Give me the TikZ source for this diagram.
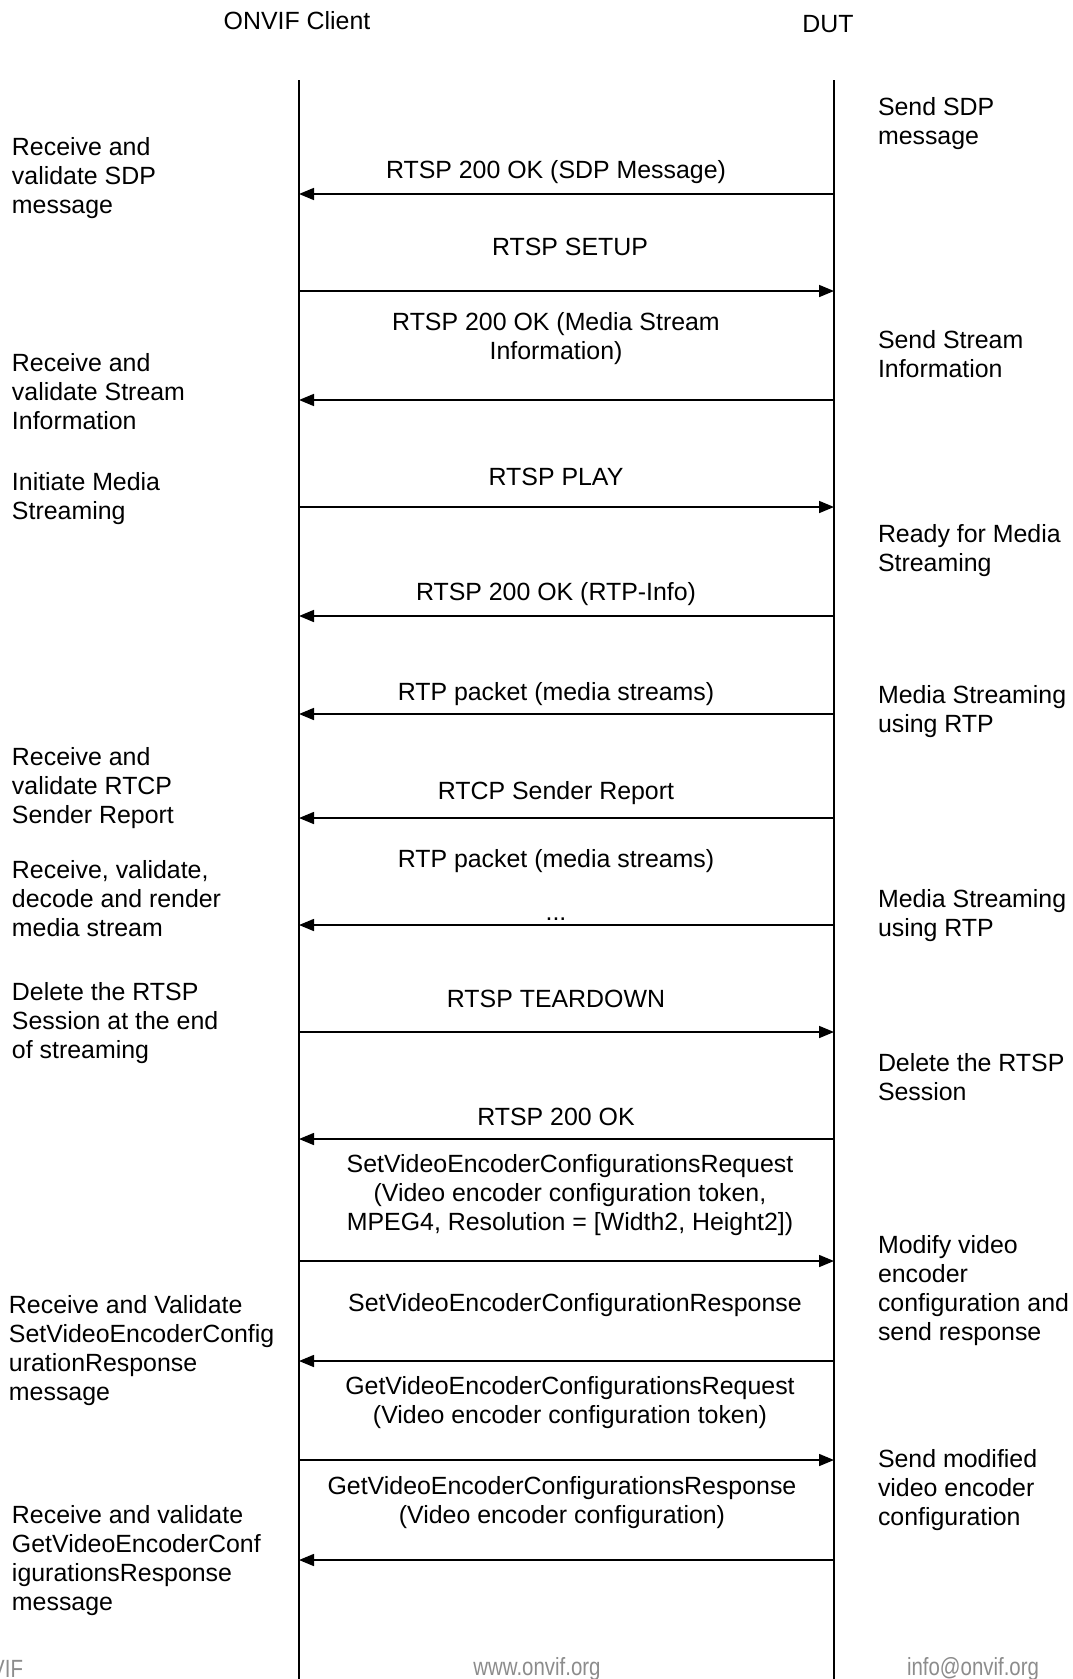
\documentclass[tikz,border=0pt]{standalone}
\usepackage{fontspec}
\setmainfont{Liberation Sans}
\newfontfamily\narrowfont[FakeStretch=0.82]{Liberation Sans}
\usetikzlibrary{arrows.meta}
\definecolor{footgray}{RGB}{140,140,140}
\begin{document}
\begin{tikzpicture}[x=1pt,y=-1pt,
  every node/.style={inner sep=0pt,outer sep=0pt,font=\fontsize{24.9}{29}\selectfont},
  txt/.style={yshift=-3pt},
  lifeline/.style={line width=1.5pt},
  msg/.style={line width=1.6pt,-{Triangle[length=15pt,width=12pt]}},
  lnote/.style={txt,anchor=west,align=left},
  rnote/.style={txt,anchor=west,align=left},
  mlabel/.style={txt,align=center},
  foot/.style={txt,font=\narrowfont\fontsize{24.9}{29}\selectfont,text=footgray}]
\useasboundingbox (0,0) rectangle (1073,1679);
\clip (0,0) rectangle (1073,1679);

% headers
\node[txt] (hc) at (297,18) {ONVIF Client};
\node[txt] (hd) at (828,21) {DUT};

% lifelines
\coordinate (ct) at (299,80);
\coordinate (cb) at (299,1679);
\coordinate (dt) at (834,80);
\coordinate (db) at (834,1679);
\draw[lifeline] (ct) -- (cb);
\draw[lifeline] (dt) -- (db);

% message endpoints
\foreach \i/\y in {1/194,2/291,3/400,4/507,5/616,6/714,7/818,8/925,9/1032,10/1139,11/1261,12/1361,13/1460,14/1560}{
  \coordinate (c\i) at (299,\y);
  \coordinate (d\i) at (834,\y);
}

\draw[msg] (d1) -- (c1);
\draw[msg] (c2) -- (d2);
\draw[msg] (d3) -- (c3);
\draw[msg] (c4) -- (d4);
\draw[msg] (d5) -- (c5);
\draw[msg] (d6) -- (c6);
\draw[msg] (d7) -- (c7);
\draw[msg] (d8) -- (c8);
\draw[msg] (c9) -- (d9);
\draw[msg] (d10) -- (c10);
\draw[msg] (c11) -- (d11);
\draw[msg] (d12) -- (c12);
\draw[msg] (c13) -- (d13);
\draw[msg] (d14) -- (c14);

% message labels
\node[mlabel] (m1) at (556,169) {RTSP 200 OK (SDP Message)};
\node[mlabel] (m2) at (570,244) {RTSP SETUP};
\node[mlabel] (m3) at (556,336) {RTSP 200 OK (Media Stream\\Information)};
\node[mlabel] (m4) at (556,474) {RTSP PLAY};
\node[mlabel] (m5) at (556,591) {RTSP 200 OK (RTP-Info)};
\node[mlabel] (m6) at (556,691) {RTP packet (media streams)};
\node[mlabel] (m7) at (556,790) {RTCP Sender Report};
\node[mlabel] (m8) at (556,858) {RTP packet (media streams)};
\node[mlabel] (m8b) at (556,916) {...};
\node[mlabel] (m9) at (556,996) {RTSP TEARDOWN};
\node[mlabel] (m10) at (556,1114) {RTSP 200 OK};
\node[mlabel] (m11) at (570,1192) {SetVideoEncoderConfigurationsRequest\\(Video encoder configuration token,\\MPEG4, Resolution = [Width2, Height2])};
\node[mlabel] (m12) at (575,1302) {SetVideoEncoderConfigurationResponse};
\node[mlabel] (m13) at (570,1400) {GetVideoEncoderConfigurationsRequest\\(Video encoder configuration token)};
\node[mlabel] (m14) at (562,1500) {GetVideoEncoderConfigurationsResponse\\(Video encoder configuration)};

% left notes
\node[lnote] (l1) at (12,175) {Receive and\\validate SDP\\message};
\node[lnote] (l2) at (12,389) {Receive and\\validate Stream\\Information};
\node[lnote] (l3) at (12,496) {Initiate Media\\Streaming};
\node[lnote] (l4) at (12,785) {Receive and\\validate RTCP\\Sender Report};
\node[lnote] (l5) at (12,896) {Receive, validate,\\decode and render\\media stream};
\node[lnote] (l6) at (12,1020) {Delete the RTSP\\Session at the end\\of streaming};
\node[lnote] (l7) at (9,1348) {Receive and Validate\\SetVideoEncoderConfig\\urationResponse\\message};
\node[lnote] (l8) at (12,1558) {Receive and validate\\GetVideoEncoderConf\\igurationsResponse\\message};

% right notes
\node[rnote] (r1) at (878,121) {Send SDP\\message};
\node[rnote] (r2) at (878,351) {Send Stream\\Information};
\node[rnote] (r3) at (878,548) {Ready for Media\\Streaming};
\node[rnote] (r4) at (878,709) {Media Streaming\\using RTP};
\node[rnote] (r5) at (878,913) {Media Streaming\\using RTP};
\node[rnote] (r6) at (878,1074) {Delete the RTSP\\Session};
\node[rnote] (r7) at (878,1288) {Modify video\\encoder\\configuration and\\send response};
\node[rnote] (r8) at (878,1487) {Send modified\\video encoder\\configuration};

% footer
\node[foot,anchor=east] (f1) at (23,1666) {ONVIF};
\node[foot] (f2) at (537,1666) {www.onvif.org};
\node[foot] (f3) at (973,1666) {info@onvif.org};
\end{tikzpicture}
\end{document}
